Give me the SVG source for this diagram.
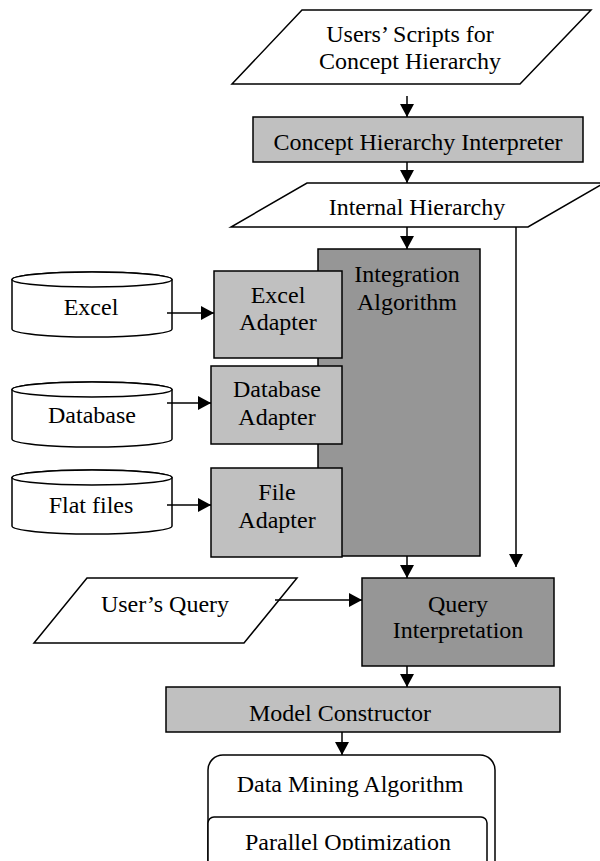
<svg xmlns="http://www.w3.org/2000/svg" width="600" height="861" viewBox="0 0 600 861">
<style>
  .ln{fill:none;stroke:#000;stroke-width:1.5}
  .io{fill:#fff;stroke:#000;stroke-width:1.5}
  .lt{fill:#c0c0c0;stroke:#000;stroke-width:1.5}
  .dk{fill:#969696;stroke:#000;stroke-width:1.5}
  .wh{fill:#fff;stroke:#000;stroke-width:1.5}
  text{font-family:"Liberation Serif","Times New Roman",serif;font-size:24px;fill:#000;text-anchor:middle}
</style>
<defs>
  <marker id="ah" markerUnits="userSpaceOnUse" markerWidth="14" markerHeight="14" viewBox="0 0 14 14" refX="13" refY="7" orient="auto">
    <path d="M0,0 L13,7 L0,14 Z" fill="#000"/>
  </marker>
  <clipPath id="clipBottom"><rect x="0" y="0" width="600" height="850"/></clipPath>
</defs>

<g id="users-scripts">
  <polygon class="io" points="302,10 591,10 520,84 232,84"/>
  <text x="410" y="42">Users’ Scripts for</text>
  <text x="410" y="69">Concept Hierarchy</text>
</g>

<g id="concept-interpreter">
  <rect class="lt" x="253" y="117" width="330" height="45"/>
  <text x="418" y="150">Concept Hierarchy Interpreter</text>
</g>

<g id="internal-hierarchy">
  <polygon class="io" points="307,183 604,183 528,227 231,227"/>
  <text x="417" y="215">Internal Hierarchy</text>
</g>

<g id="integration">
  <rect class="dk" x="318" y="249" width="162" height="307"/>
  <text x="407" y="282">Integration</text>
  <text x="407" y="310">Algorithm</text>
</g>

<g id="excel">
  <path class="wh" d="M12,279.5 L12,329 A80,8 0 0 0 172,329 L172,279.5 A80,7.5 0 0 0 12,279.5 Z"/>
  <ellipse class="wh" cx="92" cy="279.5" rx="80" ry="7.5"/>
  <text x="91" y="315">Excel</text>
</g>

<g id="excel-adapter">
  <rect class="lt" x="214" y="271" width="128" height="87"/>
  <text x="278" y="303">Excel</text>
  <text x="278" y="330">Adapter</text>
</g>

<g id="database">
  <path class="wh" d="M12,389.5 L12,439 A80,8 0 0 0 172,439 L172,389.5 A80,7.5 0 0 0 12,389.5 Z"/>
  <ellipse class="wh" cx="92" cy="389.5" rx="80" ry="7.5"/>
  <text x="92" y="423">Database</text>
</g>

<g id="database-adapter">
  <rect class="lt" x="211" y="366" width="131" height="78"/>
  <text x="277" y="397">Database</text>
  <text x="277" y="425">Adapter</text>
</g>

<g id="flat-files">
  <path class="wh" d="M12,477.5 L12,526 A80,8 0 0 0 172,526 L172,477.5 A80,7.5 0 0 0 12,477.5 Z"/>
  <ellipse class="wh" cx="92" cy="477.5" rx="80" ry="7.5"/>
  <text x="91" y="513">Flat files</text>
</g>

<g id="file-adapter">
  <rect class="lt" x="211" y="468" width="131" height="89"/>
  <text x="277" y="500">File</text>
  <text x="277" y="528">Adapter</text>
</g>

<g id="users-query">
  <polygon class="io" points="87,578 297,578 244,643 34,643"/>
  <text x="165" y="612">User’s Query</text>
</g>

<g id="query-interpretation">
  <rect class="dk" x="362" y="578" width="192" height="88"/>
  <text x="458" y="612">Query</text>
  <text x="458" y="638">Interpretation</text>
</g>

<g id="model-constructor">
  <rect class="lt" x="166" y="687" width="394" height="45"/>
  <text x="340" y="721">Model Constructor</text>
</g>

<g id="data-mining">
  <rect class="wh" x="208" y="755" width="287" height="130" rx="15" ry="15"/>
  <text x="350" y="792">Data Mining Algorithm</text>
  <rect class="wh" x="208" y="817" width="279" height="60" rx="6" ry="6"/>
  <text x="348" y="850" clip-path="url(#clipBottom)">Parallel Optimization</text>
</g>

<g id="connectors">
  <line class="ln" x1="407" y1="96" x2="407" y2="117" marker-end="url(#ah)"/>
  <line class="ln" x1="407" y1="162" x2="407" y2="183" marker-end="url(#ah)"/>
  <line class="ln" x1="407" y1="227" x2="407" y2="249" marker-end="url(#ah)"/>
  <line class="ln" x1="516" y1="227" x2="516" y2="567" marker-end="url(#ah)"/>
  <line class="ln" x1="167" y1="313" x2="214" y2="313" marker-end="url(#ah)"/>
  <line class="ln" x1="167" y1="403" x2="211" y2="403" marker-end="url(#ah)"/>
  <line class="ln" x1="167" y1="505" x2="211" y2="505" marker-end="url(#ah)"/>
  <line class="ln" x1="407" y1="556" x2="407" y2="578" marker-end="url(#ah)"/>
  <line class="ln" x1="275" y1="600" x2="362" y2="600" marker-end="url(#ah)"/>
  <line class="ln" x1="407" y1="666" x2="407" y2="687" marker-end="url(#ah)"/>
  <line class="ln" x1="342" y1="732" x2="342" y2="755" marker-end="url(#ah)"/>
</g>
</svg>
